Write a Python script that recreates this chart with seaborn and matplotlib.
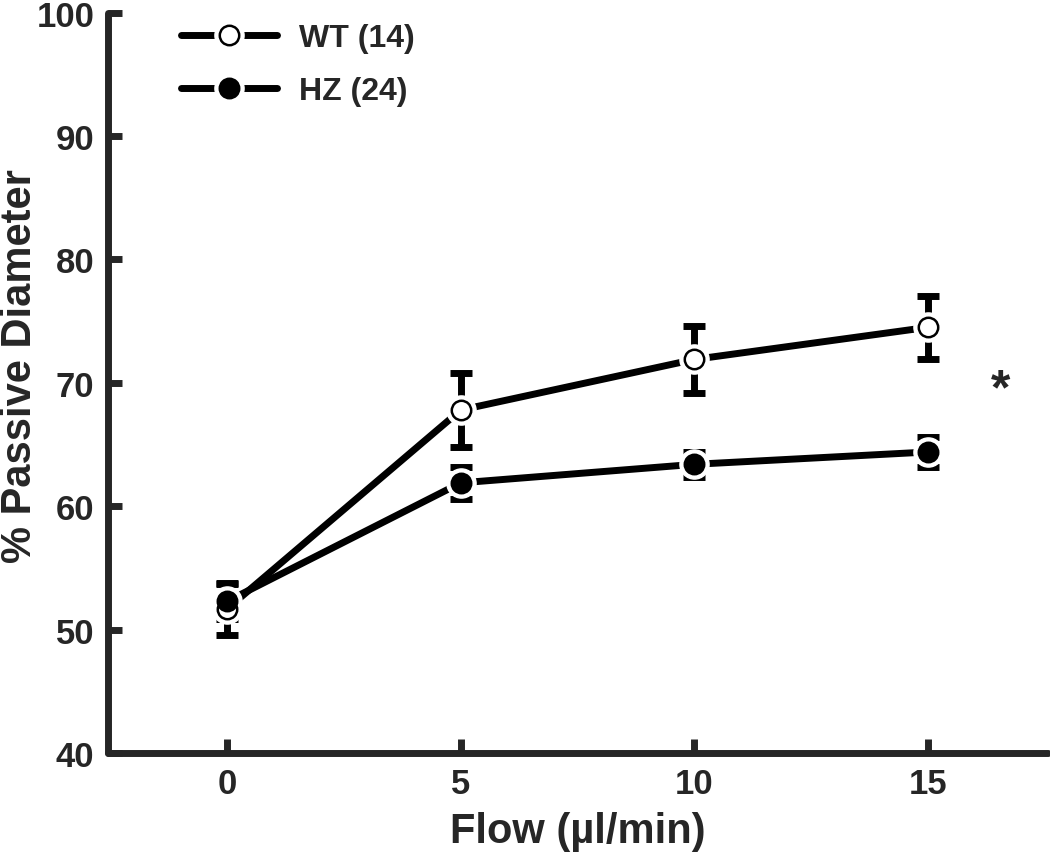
import numpy as np
import pandas as pd
import matplotlib
matplotlib.use('Agg')
import matplotlib.pyplot as plt
import seaborn as sns
from matplotlib.lines import Line2D
from matplotlib.legend_handler import HandlerTuple

# data (mean +/- SE)
flow = [0, 5, 10, 15]
wt_mean = [51.7, 67.8, 71.9, 74.5]
wt_se = [2.1, 3.0, 2.7, 2.55]
hz_mean = [52.3, 61.9, 63.4, 64.4]
hz_se = [1.4, 1.3, 1.0, 1.25]
labels = ['WT (14)', 'HZ (24)']

df = pd.DataFrame({'Flow': flow * 2,
                   'Diameter': wt_mean + hz_mean,
                   'SE': wt_se + hz_se,
                   'Group': [labels[0]] * 4 + [labels[1]] * 4})

sns.set_theme(style='ticks')
plt.rcParams['font.family'] = ['Liberation Sans', 'DejaVu Sans']
plt.rcParams['font.weight'] = 'bold'

fig = plt.figure(figsize=(10.5, 8.54), dpi=100)
ax = fig.add_axes([0.103, 0.117, 0.895, 0.867])

faces = {labels[0]: 'white', labels[1]: 'black'}
handles = []
for grp in labels:
    d = df[df['Group'] == grp]
    # line + error bars
    sns.lineplot(data=d, x='Flow', y='Diameter', color='black', lw=5,
                 ax=ax, zorder=2)
    ax.errorbar(d['Flow'], d['Diameter'], yerr=d['SE'], fmt='none',
                ecolor='black', elinewidth=5, capsize=8, capthick=5,
                zorder=2)
    # white halo so line stops short of the marker
    ax.plot(d['Flow'], d['Diameter'], 'o', ms=21, mfc='white', mec='white',
            zorder=3)
    ax.plot(d['Flow'], d['Diameter'], 'o', ms=14, mfc=faces[grp], mec='black',
            mew=1.8, zorder=4)
    h = (Line2D([], [], color='black', lw=5, solid_capstyle='round'),
         Line2D([], [], ls='none', marker='o', ms=21, mfc='white', mec='white'),
         Line2D([], [], ls='none', marker='o', ms=14, mfc=faces[grp],
                mec='black', mew=1.8))
    handles.append(h)

for ln in ax.get_lines():
    ln.set_solid_capstyle('round')

ax.text(16.55, 69.4, '*', fontsize=36, fontweight='bold', ha='center',
        va='center')

ax.set_xlim(-2.55, 17.57)
ax.set_ylim(40, 100)
ax.set_xticks([0, 5, 10, 15])
ax.set_yticks([40, 50, 60, 70, 80, 90, 100])
ax.tick_params(direction='in', length=10, width=5, labelsize=25, pad=10)
for lab in ax.get_xticklabels() + ax.get_yticklabels():
    lab.set_fontweight('bold')
sns.despine(ax=ax)
for s in ['left', 'bottom']:
    ax.spines[s].set_linewidth(5)
    ax.spines[s].set_capstyle('round')

ax.set_xlabel('Flow (µl/min)', fontsize=30, fontweight='bold', labelpad=8)
ax.set_ylabel('% Passive Diameter', fontsize=30, fontweight='bold')
ax.yaxis.set_label_coords(-0.072, 0.524)

leg = ax.legend(handles, labels, handler_map={tuple: HandlerTuple(ndivide=1)},
                loc='upper left', bbox_to_anchor=(0.047, 1.025), frameon=False,
                handlelength=3.0, handletextpad=0.7,
                labelspacing=0.72, prop={'size': 23, 'weight': 'bold'})

fig.savefig('out.png', dpi=100)
